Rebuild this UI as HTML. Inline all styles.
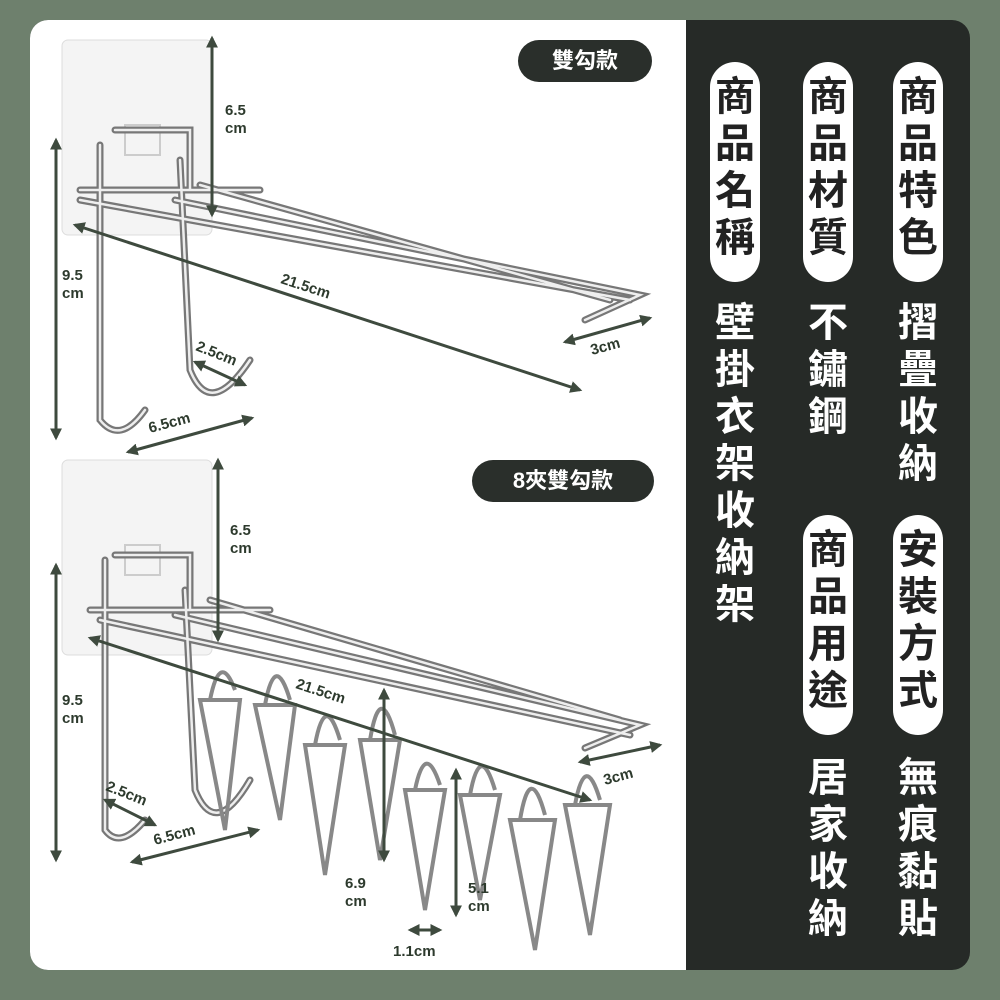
<!DOCTYPE html>
<html><head><meta charset="utf-8"><style>
*{margin:0;padding:0;box-sizing:border-box}
body{width:1000px;height:1000px;background:#6e806d;position:relative;overflow:hidden;font-family:"Liberation Sans","Noto Sans CJK TC",sans-serif}
.card{position:absolute;left:30px;top:20px;width:940px;height:950px;border-radius:18px;overflow:hidden;background:#262a27}
.left{position:absolute;left:0;top:0;width:656px;height:950px;background:#fff}
.badge{position:absolute;background:#2a2f2b;color:#fff;font-weight:bold;font-size:22px;border-radius:22px;text-align:center;line-height:42px}
.pill{position:absolute;width:50px;background:#fff;color:#222;border-radius:25px;font-weight:bold;font-size:40px;line-height:47px;text-align:center;padding-top:12px}
.vt{position:absolute;width:56px;color:#fff;font-weight:bold;font-size:40px;line-height:47px;text-align:center}
svg{position:absolute;left:0;top:0}
.d{font-family:"Liberation Sans",sans-serif;font-weight:bold;font-size:15px;fill:#2d3a2d}
</style></head><body>
<div class="card">
<div class="left"></div>
<div class="badge" style="left:488px;top:20px;width:134px">雙勾款</div>
<div class="badge" style="left:442px;top:440px;width:182px">8夾雙勾款</div>
<div class="pill" style="left:680px;top:42px;height:220px">商<br>品<br>名<br>稱</div>
<div class="pill" style="left:773px;top:42px;height:220px">商<br>品<br>材<br>質</div>
<div class="pill" style="left:863px;top:42px;height:220px">商<br>品<br>特<br>色</div>
<div class="vt" style="left:677px;top:280px">壁<br>掛<br>衣<br>架<br>收<br>納<br>架</div>
<div class="vt" style="left:770px;top:280px">不<br>鏽<br>鋼</div>
<div class="vt" style="left:860px;top:280px">摺<br>疊<br>收<br>納</div>
<div class="pill" style="left:773px;top:495px;height:220px">商<br>品<br>用<br>途</div>
<div class="pill" style="left:863px;top:495px;height:220px">安<br>裝<br>方<br>式</div>
<div class="vt" style="left:770px;top:735px">居<br>家<br>收<br>納</div>
<div class="vt" style="left:860px;top:735px">無<br>痕<br>黏<br>貼</div>
</div>
<svg width="1000" height="1000" viewBox="0 0 1000 1000">
<defs><marker id="a" viewBox="0 0 10 10" refX="8" refY="5" markerWidth="4" markerHeight="4" orient="auto-start-reverse"><path d="M0 0L10 5L0 10Z" fill="#3e4a3e"/></marker></defs>
<g fill="#f4f4f4" stroke="#ddd"><rect x="62" y="40" width="150" height="195" rx="6"/><rect x="62" y="460" width="150" height="195" rx="6"/></g>
<g fill="none" stroke="#ccc" stroke-width="2"><rect x="125" y="125" width="35" height="30"/><rect x="125" y="545" width="35" height="30"/></g>
<g id="h1" fill="none" stroke-linecap="round">
<g stroke="#777" stroke-width="7">
<path d="M100 145 L100 420 Q120 445 145 410 M115 130 L190 130 L190 190 M80 190 L260 190 M180 160 L190 370 Q210 420 250 360 M80 200 L630 300 M175 200 L640 295 L585 320 M200 185 L610 300"/>
<path d="M105 560 L105 830 Q120 850 145 820 M115 555 L190 555 L190 610 M90 610 L270 610 M185 590 L195 790 Q215 840 250 780 M100 620 L630 735 M175 615 L640 725 L585 748 M210 600 L620 720"/>
</g>
<g stroke="#eee" stroke-width="2.5">
<path d="M100 145 L100 420 Q120 445 145 410 M115 130 L190 130 L190 190 M80 190 L260 190 M180 160 L190 370 Q210 420 250 360 M80 200 L630 300 M175 200 L640 295 L585 320 M200 185 L610 300"/>
<path d="M105 560 L105 830 Q120 850 145 820 M115 555 L190 555 L190 610 M90 610 L270 610 M185 590 L195 790 Q215 840 250 780 M100 620 L630 735 M175 615 L640 725 L585 748 M210 600 L620 720"/>
</g>
</g>
<g fill="none" stroke="#888" stroke-width="4">
<path d="M200 700 L225 830 L240 700Z M255 705 L280 820 L295 705Z M305 745 L325 875 L345 745Z M360 740 L380 860 L400 740Z M405 790 L425 910 L445 790Z M460 795 L480 900 L500 795Z M510 820 L535 950 L555 820Z M565 805 L590 935 L610 805Z"/>
<path d="M210 700 Q220 650 235 690 M265 705 Q275 650 290 700 M315 745 Q325 690 340 740 M370 740 Q380 680 395 735 M415 790 Q425 740 440 785 M470 795 Q480 740 495 790 M520 820 Q530 760 545 815 M575 805 Q585 750 600 800"/>
</g>
<g stroke="#3e4a3e" stroke-width="3" fill="none" marker-start="url(#a)" marker-end="url(#a)">
<line x1="56" y1="140" x2="56" y2="438"/><line x1="212" y1="38" x2="212" y2="215"/>
<line x1="75" y1="225" x2="580" y2="390"/><line x1="565" y1="342" x2="650" y2="318"/>
<line x1="128" y1="452" x2="252" y2="418"/><line x1="195" y1="362" x2="245" y2="385"/>
<line x1="56" y1="565" x2="56" y2="860"/><line x1="218" y1="460" x2="218" y2="640"/>
<line x1="90" y1="638" x2="590" y2="800"/><line x1="580" y1="762" x2="660" y2="745"/>
<line x1="132" y1="862" x2="258" y2="830"/><line x1="105" y1="800" x2="155" y2="825"/>
<line x1="384" y1="690" x2="384" y2="860"/><line x1="456" y1="770" x2="456" y2="915"/>
<line x1="410" y1="930" x2="440" y2="930"/>
</g>
<g class="d">
<text x="225" y="115" class="d">6.5</text><text x="225" y="133" class="d">cm</text>
<text x="62" y="280" class="d">9.5</text><text x="62" y="298" class="d">cm</text>
<text x="280" y="283" class="d" transform="rotate(18 280 283)">21.5cm</text>
<text x="195" y="350" class="d" transform="rotate(22 195 350)">2.5cm</text>
<text x="150" y="433" class="d" transform="rotate(-15 150 433)">6.5cm</text>
<text x="592" y="355" class="d" transform="rotate(-15 592 355)">3cm</text>
<text x="230" y="535" class="d">6.5</text><text x="230" y="553" class="d">cm</text>
<text x="62" y="705" class="d">9.5</text><text x="62" y="723" class="d">cm</text>
<text x="295" y="688" class="d" transform="rotate(18 295 688)">21.5cm</text>
<text x="105" y="790" class="d" transform="rotate(22 105 790)">2.5cm</text>
<text x="155" y="845" class="d" transform="rotate(-15 155 845)">6.5cm</text>
<text x="605" y="785" class="d" transform="rotate(-15 605 785)">3cm</text>
<text x="345" y="888" class="d">6.9</text><text x="345" y="906" class="d">cm</text>
<text x="468" y="893" class="d">5.1</text><text x="468" y="911" class="d">cm</text>
<text x="393" y="956" class="d">1.1cm</text>
</g>
</svg>
</body></html>
